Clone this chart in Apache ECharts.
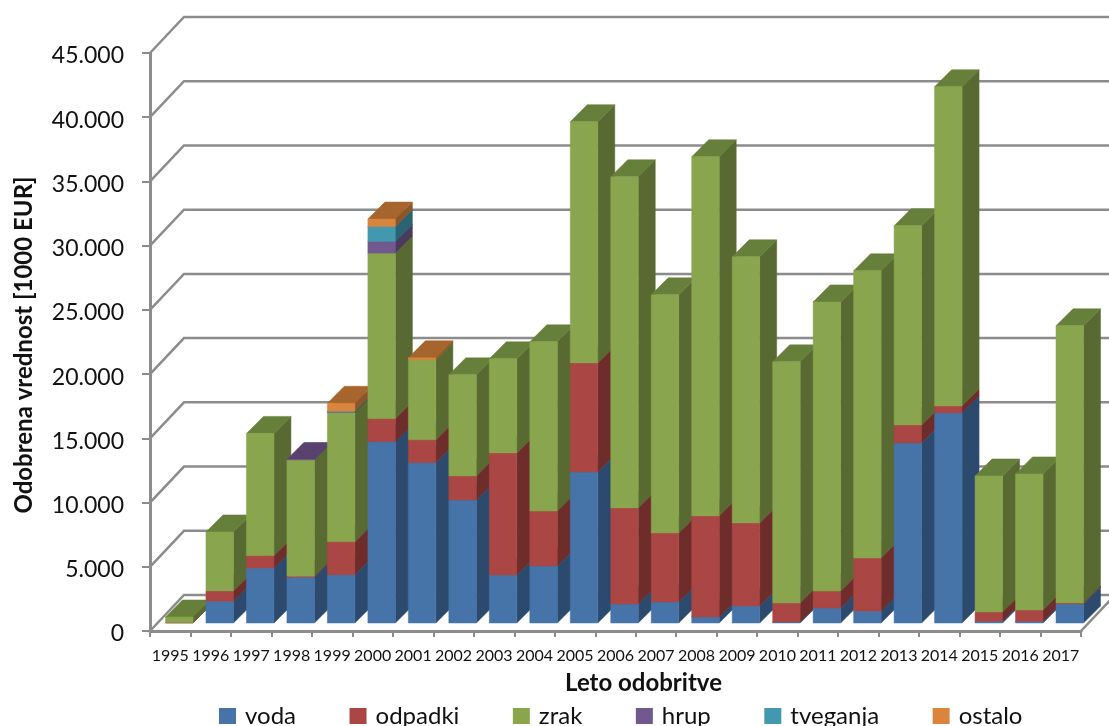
<!DOCTYPE html>
<html><head><meta charset="utf-8">
<style>html,body{margin:0;padding:0;background:#fff}#c{width:1109px;height:726px}</style>
<script src="https://cdn.jsdelivr.net/npm/echarts@6/dist/echarts.min.js"></script>
</head><body><div id="c"></div>
<script>
const years = [1995,1996,1997,1998,1999,2000,2001,2002,2003,2004,2005,2006,2007,2008,2009,2010,2011,2012,2013,2014,2015,2016,2017].map(String);
const voda     = [0,1700,4280,3560,3760,14120,12490,9580,3740,4440,11760,1480,1640,470,1320,80,1170,930,14020,16360,130,130,1480];
const odpadki  = [20,800,960,80,2570,1790,1770,1870,9500,4280,8490,7480,5370,7870,6470,1480,1320,4130,1400,540,730,880,80];
const zrak     = [450,4590,9520,9060,10080,12890,6230,7870,7330,13170,18780,25780,18540,27960,20720,18770,22510,22360,15510,24850,10590,10600,21580];
const hrup     = [0,0,0,30,30,900,0,0,0,0,0,0,0,0,0,0,0,0,0,0,0,0,0];
const tveganja = [0,0,0,0,50,1170,0,0,0,0,0,0,0,0,0,0,0,0,0,0,0,0,0];
const ostalo   = [0,0,0,0,620,580,160,0,0,0,0,0,0,0,0,0,0,0,0,0,0,0,0];
const wallTicks = [0,5000,10000,15000,20000,25000,30000,35000,40000,45000];
const seriesDefs = [
  {name:'voda',     values:voda,     front:'#4674A8', side:'#2C4A6E', top:'#3A6190'},
  {name:'odpadki',  values:odpadki,  front:'#AA4643', side:'#6E2D2B', top:'#8C3A37'},
  {name:'zrak',     values:zrak,     front:'#89A54E', side:'#586A32', top:'#667F3A'},
  {name:'hrup',     values:hrup,     front:'#71588F', side:'#4A3A5D', top:'#5A4270'},
  {name:'tveganja', values:tveganja, front:'#4198AF', side:'#2A6371', top:'#347F92'},
  {name:'ostalo',   values:ostalo,   front:'#DB843D', side:'#8E5628', top:'#A5652D'}
];
const grey = '#8C8C8C';
const BACK_DX = 34, BACK_DY = 36, BAR_W = 27.5, BAR_DX = 9, BAR_DY = 8, DEPTH = 17;
const fmt = v => '{a|' + (v === 0 ? '0' : (v/1000).toFixed(0) + '.000') + '}';

function poly(pts, fill, z2){
  return {type:'polygon', shape:{points:pts}, z2,
    style:{fill, stroke:fill, lineWidth:0.5}};
}
function barRender(def, sIdx){
  return function(params, api){
    const i = api.value(0), lo = api.value(1), hi = api.value(2);
    if (hi <= lo) return {type:'group', children:[]};
    const c = api.coord([i, lo]), d = api.coord([i, hi]);
    const x0 = c[0] + BAR_DX - BAR_W/2, x1 = x0 + BAR_W;
    const yb = c[1] - BAR_DY, yt = d[1] - BAR_DY;
    const z = 10 + i*10 + sIdx;
    return {type:'group', children:[
      poly([[x1,yb],[x1+DEPTH,yb-DEPTH],[x1+DEPTH,yt-DEPTH],[x1,yt]], def.side, z),
      poly([[x0,yt],[x1,yt],[x1+DEPTH,yt-DEPTH],[x0+DEPTH,yt-DEPTH]], def.top, z),
      poly([[x0,yb],[x1,yb],[x1,yt],[x0,yt]], def.front, z)
    ]};
  };
}
const barSeries = [];
const running = years.map(()=>0);
seriesDefs.forEach((def, sIdx)=>{
  const data = def.values.map((v,i)=>{ const lo = running[i]; running[i] += v; return [i, lo, running[i]]; });
  barSeries.push({
    type:'custom', name:def.name, data, silent:true,
    encode:{x:0, y:2}, itemStyle:{color:def.front},
    renderItem:barRender(def, sIdx)
  });
});
const wallSeries = {
  type:'custom', name:'wall', silent:true, data:wallTicks.map(v=>[v]),
  encode:{y:0},
  renderItem(params, api){
    const v = api.value(0);
    const half = api.size([1,0])[0]/2;
    const a = api.coord([0, v]); const b = api.coord([years.length-1, v]);
    const xl = a[0]-half, xr = b[0]+half, y = a[1];
    const kids = [{type:'polyline', z2:1,
      shape:{points:[[xl,y],[xl+BACK_DX,y-BACK_DY],[xr+BACK_DX,y-BACK_DY]]},
      style:{stroke:grey, lineWidth:2.5, fill:null}}];
    if (v === 0) kids.push({type:'line', z2:1, shape:{x1:xr,y1:y,x2:xr+BACK_DX,y2:y-BACK_DY},
      style:{stroke:grey, lineWidth:2.5}});
    return {type:'group', children:kids};
  }
};
const chart = echarts.init(document.getElementById('c'), null, {renderer:'canvas'});
chart.setOption({
  animation:false, backgroundColor:'#fff',
  textStyle:{fontFamily:'Lato'},
  grid:{left:150, right:28, top:53, bottom:95, containLabel:false},
  legend:{data:seriesDefs.map(d=>d.name), left:219, top:704, padding:0, itemWidth:17, itemHeight:16, itemGap:53.5,
    icon:'rect', selectedMode:false, textStyle:{fontSize:24, color:'#111', fontFamily:'Lato', padding:[0,0,0,4]}},
  xAxis:{type:'category', data:years, boundaryGap:true,
    axisLine:{lineStyle:{color:grey, width:3}},
    axisTick:{show:true, length:6, lineStyle:{color:grey, width:2}},
    axisLabel:{fontSize:16, color:'#111', margin:17, interval:0, fontFamily:'Lato'},
    name:'Leto odobritve', nameLocation:'middle', nameGap:40,
    nameTextStyle:{fontSize:24, fontWeight:'bold', color:'#111', fontFamily:'Lato', padding:[0,0,0,56]},
    splitLine:{show:false}},
  yAxis:{type:'value', min:0, max:45000, interval:5000,
    axisLine:{show:true, lineStyle:{color:grey, width:3}},
    axisTick:{show:true, length:8, lineStyle:{color:grey, width:2}},
    axisLabel:{color:'#111', margin:26, formatter:fmt,
      rich:{a:{fontSize:23, color:'#111', fontFamily:'Lato', padding:[6,0,0,0]}}},
    name:'Odobrena vrednost [1000 EUR]', nameLocation:'middle', nameGap:114, nameRotate:90,
    nameTextStyle:{fontSize:24, fontWeight:'bold', color:'#111', fontFamily:'Lato', padding:[0,6,0,0]},
    splitLine:{show:false}},
  series:[wallSeries].concat(barSeries)
});
</script></body></html>
